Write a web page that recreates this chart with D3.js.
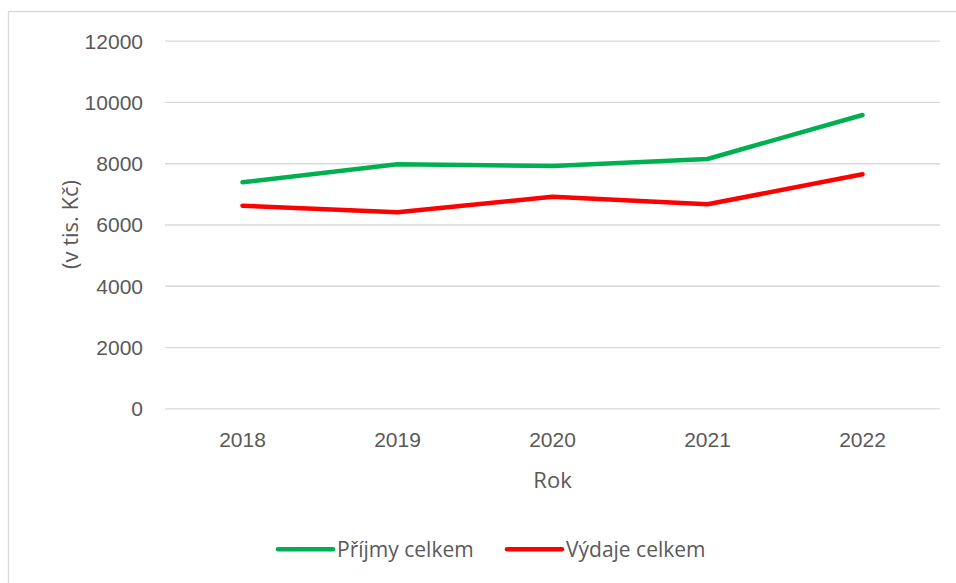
<!DOCTYPE html>
<html><head><meta charset="utf-8">
<script src="https://cdn.jsdelivr.net/npm/d3@7"></script>
<style>body{margin:0;background:#fff;}svg{display:block;font-family:"Open Sans","Noto Sans",sans-serif;}</style>
</head><body>
<svg id="c" width="956" height="583"></svg>
<script>
const years = ["2018","2019","2020","2021","2022"];
const prijmy = [7378, 7965, 7910, 8138, 9575];
const vydaje = [6614, 6398, 6908, 6659, 7639];
const yTicks = [0, 2000, 4000, 6000, 8000, 10000, 12000];
const seriesNames = ["Příjmy celkem", "Výdaje celkem"];
const seriesColors = ["#00b050", "#ff0000"];

(function(){
const svg = d3.select("#c");
const pLeft = 165, pRight = 940, pTop = 40.7, pBottom = 408.3;
const textColor = "#595959";

svg.append("rect").attr("x",8.5).attr("y",11.5).attr("width",960).attr("height",600)
  .attr("fill","none").attr("stroke","#d9d9d9").attr("stroke-width",1.3);

const x = d3.scaleBand().domain(years).range([pLeft, pRight]);
const y = d3.scaleLinear().domain([0, 12000]).range([pBottom, pTop]);

const yAxis = d3.axisLeft(y).tickValues(yTicks).tickSize(-(pRight-pLeft)).tickPadding(22).tickFormat(d3.format("d"));
const gy = svg.append("g").attr("transform",`translate(${pLeft},0)`).call(yAxis);
gy.select(".domain").remove();
gy.selectAll(".tick line").attr("stroke","#d9d9d9").attr("stroke-width",1.3);
gy.selectAll(".tick text").attr("fill",textColor).attr("font-size",21).attr("dy","0.35em");

const xAxis = d3.axisBottom(x).tickSize(0).tickPadding(20);
const gx = svg.append("g").attr("transform",`translate(0,${pBottom})`).call(xAxis);
gx.select(".domain").remove();
gx.selectAll(".tick text").attr("fill",textColor).attr("font-size",21).attr("dy","0.35em").attr("y",31);

svg.append("text").attr("x",(pLeft+pRight)/2).attr("y",480).attr("text-anchor","middle")
  .attr("dy","0.35em").attr("fill",textColor).attr("font-size",22).text("Rok");
svg.append("text").attr("transform",`translate(70,${(pTop+pBottom)/2}) rotate(-90)`)
  .attr("text-anchor","middle").attr("dy","0.35em").attr("fill",textColor).attr("font-size",22).text("(v tis. Kč)");

const line = d3.line().x((d,i)=>x(years[i])+x.bandwidth()/2).y(d=>y(d));
[prijmy, vydaje].forEach((s,i)=>{
  svg.append("path").datum(s).attr("d",line).attr("fill","none")
    .attr("stroke",seriesColors[i]).attr("stroke-width",4.5)
    .attr("stroke-linecap","round").attr("stroke-linejoin","round");
});

const legendX = [278, 507];
seriesNames.forEach((n,i)=>{
  const g = svg.append("g");
  g.append("line").attr("x1",legendX[i]).attr("x2",legendX[i]+55).attr("y1",549.3).attr("y2",549.3)
    .attr("stroke",seriesColors[i]).attr("stroke-width",4.5).attr("stroke-linecap","round");
  g.append("text").attr("x",legendX[i]+59).attr("y",549.3).attr("dy","0.35em")
    .attr("fill",textColor).attr("font-size",21).text(n);
});
})();
</script>
</body></html>
